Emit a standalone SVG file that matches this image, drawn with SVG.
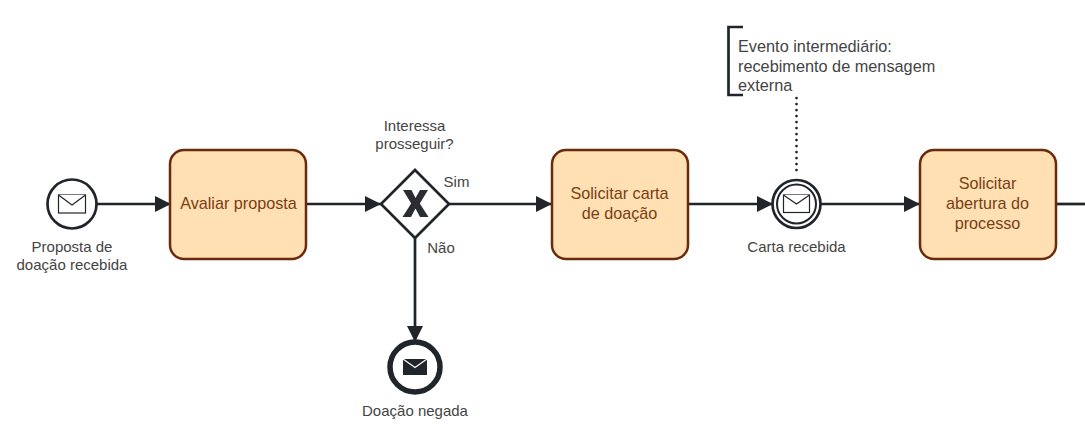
<svg xmlns="http://www.w3.org/2000/svg" width="1085" height="441" viewBox="0 0 1085 441">
<style>
text{font-family:"Liberation Sans",Arial,sans-serif;font-size:15px;fill:#444;text-anchor:middle}
.task rect{fill:#ffe0b2;stroke:#6b2a0c;stroke-width:2.5}
.task text{fill:#7a3d14;font-size:16.200px}
.note text{font-size:16.300px;text-anchor:start}
.flow{fill:none;stroke:#20242b;stroke-width:2.700}
.ev{fill:#fff;stroke:#20242b;stroke-width:2.700}
.env{fill:#fff;stroke:#20242b;stroke-width:1.200}
</style>
<defs>
<marker id="arrow" markerUnits="userSpaceOnUse" markerWidth="17" markerHeight="18" refX="16" refY="9" orient="auto"><path d="M0,1 L16,9 L0,17 Z" fill="#20242b"/></marker>
</defs>
<g id="connectors">
<path class="flow" d="M97,204 H171" marker-end="url(#arrow)"/>
<path class="flow" d="M306,204 H381" marker-end="url(#arrow)"/>
<path class="flow" d="M449,204 H552" marker-end="url(#arrow)"/>
<path class="flow" d="M415,238 V342" marker-end="url(#arrow)"/>
<path class="flow" d="M688,204 H773" marker-end="url(#arrow)"/>
<path class="flow" d="M820,204 H920" marker-end="url(#arrow)"/>
<path class="flow" d="M1056,204 H1085"/>
<path d="M796.500,98 V175" fill="none" stroke="#20242b" stroke-width="2.700" stroke-linecap="round" stroke-dasharray="0.100 5.900"/>
</g>
<g id="start-event">
<circle class="ev" cx="72" cy="204" r="24.500"/>
<rect class="env" x="58.500" y="195" width="27" height="18"/>
<path class="env" d="M58.500,195 L72,205 L85.500,195"/>
<text x="72" y="252">Proposta de</text>
<text x="72" y="270">doação recebida</text>
</g>
<g id="task-avaliar" class="task">
<rect x="170" y="150" width="136" height="109" rx="14"/>
<text x="238.500" y="209">Avaliar proposta</text>
</g>
<g id="gateway">
<path d="M415,170 L449,204 L415,238 L381,204 Z" fill="#fff" stroke="#20242b" stroke-width="2.700"/>
<path d="M403,190 H411.500 L415.500,198 L420,190 H428 L419.800,203.500 L428.500,217 H420 L415.500,208.500 L411,217 H402.500 L411.200,203.500 Z" fill="#2a2d33"/>
<text x="414.500" y="131">Interessa</text>
<text x="414.500" y="149">prosseguir?</text>
</g>
<text x="456.500" y="187">Sim</text>
<text x="441" y="253">Não</text>
<g id="end-event">
<circle cx="415" cy="367" r="25" fill="#fff" stroke="#20242b" stroke-width="5.500"/>
<rect x="403" y="359" width="24" height="16" fill="#20242b"/>
<path d="M403,359 L415,367.500 L427,359" fill="none" stroke="#fff" stroke-width="1.200"/>
<text x="415" y="416">Doação negada</text>
</g>
<g id="task-carta" class="task">
<rect x="552" y="150" width="136" height="109" rx="14"/>
<text x="619.500" y="199">Solicitar carta</text>
<text x="619.500" y="219">de doação</text>
</g>
<g id="intermediate-event">
<circle class="ev" cx="796.500" cy="204" r="24"/>
<circle cx="796.500" cy="204" r="19.500" fill="none" stroke="#20242b" stroke-width="2"/>
<rect class="env" x="783.500" y="195" width="26" height="17.500"/>
<path class="env" d="M783.500,195 L796.500,204 L809.500,195"/>
<text x="796.500" y="252">Carta recebida</text>
</g>
<g id="annotation" class="note">
<path d="M743,27 H728.500 V95 H743" fill="none" stroke="#20242b" stroke-width="2.700"/>
<text x="738" y="52">Evento intermediário:</text>
<text x="738" y="71.500">recebimento de mensagem</text>
<text x="738" y="91">externa</text>
</g>
<g id="task-abertura" class="task">
<rect x="920" y="150" width="136" height="109" rx="14"/>
<text x="987.500" y="189">Solicitar</text>
<text x="987.500" y="209">abertura do</text>
<text x="987.500" y="229">processo</text>
</g>
</svg>
